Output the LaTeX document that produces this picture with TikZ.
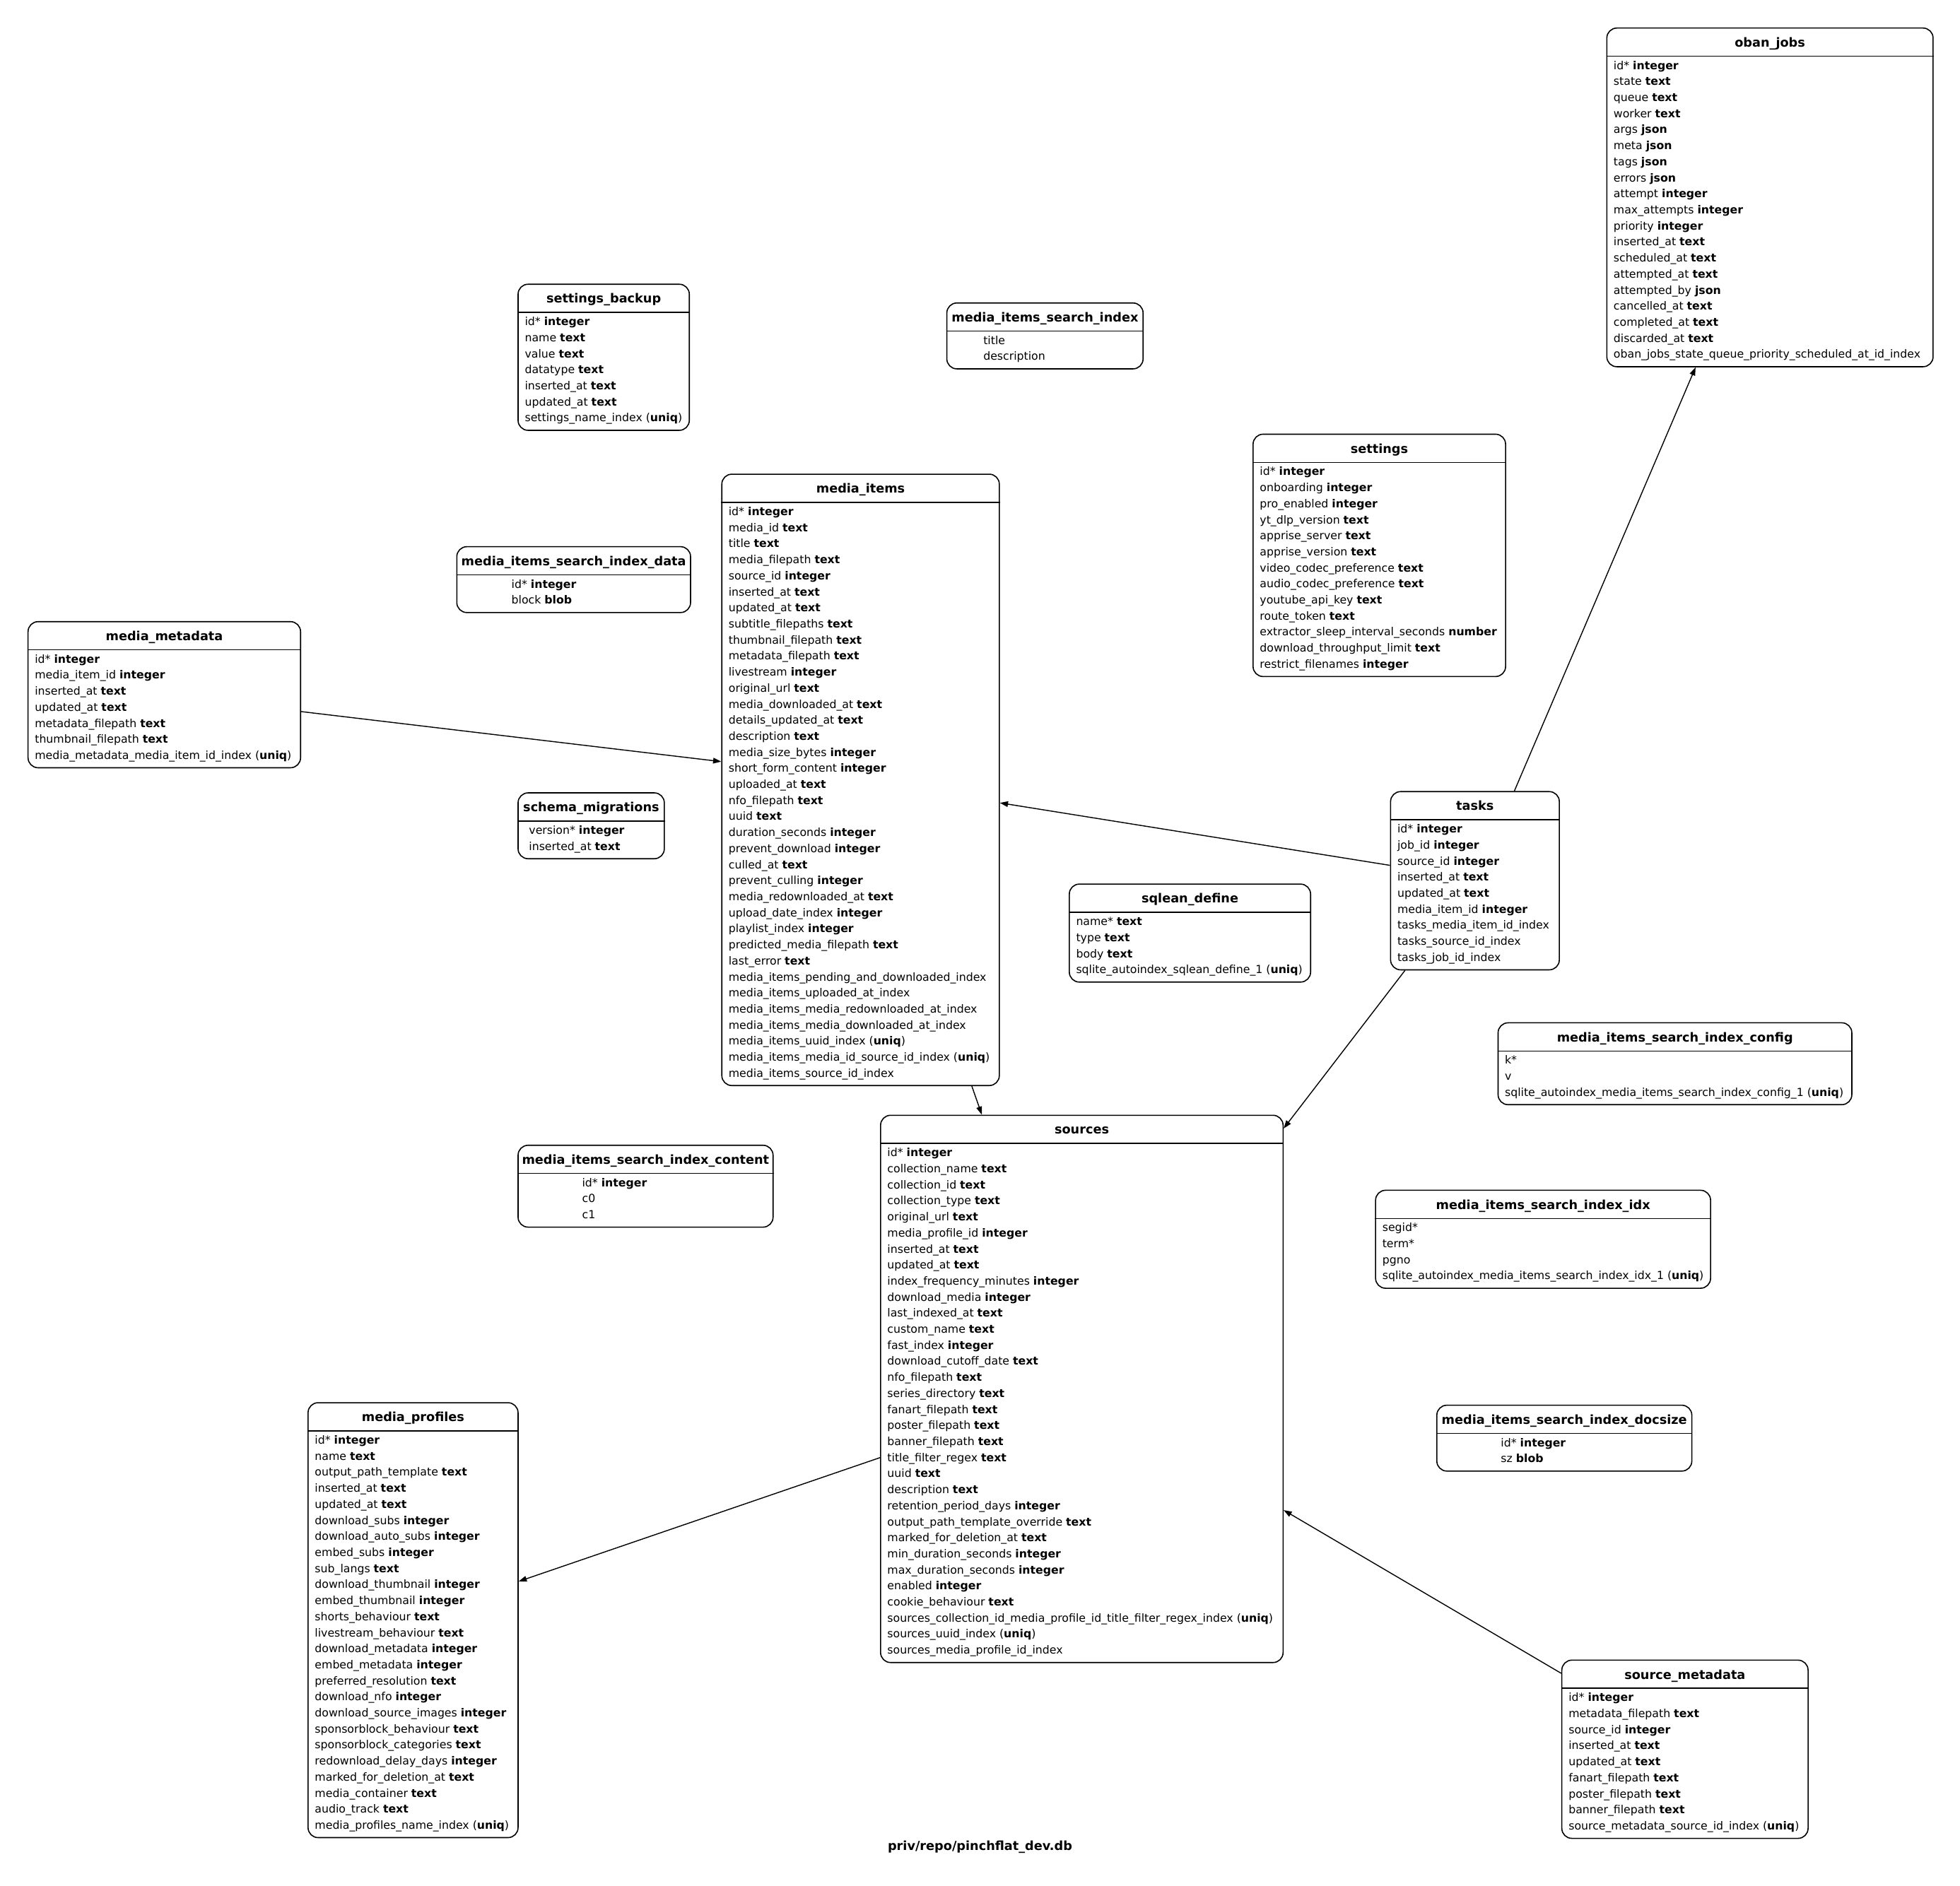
\documentclass[tikz,border=0pt]{standalone}
\usepackage{fontspec}
\setmainfont{DejaVu Sans}
\usetikzlibrary{arrows.meta}

\tikzset{
  tbl/.style={draw, rounded corners=8pt, line width=0.9pt, anchor=north west, inner sep=0pt},
  hdr/.style={anchor=base, inner sep=0pt, font=\bfseries},
  fld/.style={anchor=base west, inner sep=0pt},
  sep/.style={line width=0.9pt},
  rel/.style={-{Triangle[length=6.5pt,width=4.5pt]}, line width=0.8pt},
}

\begin{document}
\begin{tikzpicture}[x=1pt, y=-1pt, font=\fontsize{8.9pt}{10pt}\selectfont]
\useasboundingbox (0,0) rectangle (1568,1509);

% oban_jobs
\node[tbl, minimum width=261pt, minimum height=271pt] (obanjobs) at (1285,22) {};
\node[hdr] (obanjobs-h) at ([yshift=-15.5pt]obanjobs.north) {oban\_jobs};
\draw[sep] ([yshift=-23pt]obanjobs.north west) -- ([yshift=-23pt]obanjobs.north east);
\foreach \f [count=\i from 0] in {id* \textbf{integer}, state \textbf{text}, queue \textbf{text}, worker \textbf{text},
  args \textbf{json}, meta \textbf{json}, tags \textbf{json}, errors \textbf{json}, attempt \textbf{integer},
  max\_attempts \textbf{integer}, priority \textbf{integer}, inserted\_at \textbf{text}, scheduled\_at \textbf{text},
  attempted\_at \textbf{text}, attempted\_by \textbf{json}, cancelled\_at \textbf{text}, completed\_at \textbf{text},
  discarded\_at \textbf{text}, oban\_jobs\_state\_queue\_priority\_scheduled\_at\_id\_index}
  \node[fld] (obanjobs-\i) at ([xshift=5.7pt, yshift={-33.5pt-\i*12.84pt}]obanjobs.north west) {\f};

% settings_backup
\node[tbl, minimum width=137pt, minimum height=116.9pt] (settingsbackup) at (414,227) {};
\node[hdr] (settingsbackup-h) at ([yshift=-15.5pt]settingsbackup.north) {settings\_backup};
\draw[sep] ([yshift=-23pt]settingsbackup.north west) -- ([yshift=-23pt]settingsbackup.north east);
\foreach \f [count=\i from 0] in {id* \textbf{integer}, name \textbf{text}, value \textbf{text}, datatype \textbf{text},
  inserted\_at \textbf{text}, updated\_at \textbf{text}, settings\_name\_index (\textbf{uniq})}
  \node[fld] (settingsbackup-\i) at ([xshift=5.7pt, yshift={-33.5pt-\i*12.84pt}]settingsbackup.north west) {\f};

% media_items_search_index
\node[tbl, minimum width=157pt, minimum height=52.7pt] (searchindex) at (757,242) {};
\node[hdr] (searchindex-h) at ([yshift=-15.5pt]searchindex.north) {media\_items\_search\_index};
\draw[sep] ([yshift=-23pt]searchindex.north west) -- ([yshift=-23pt]searchindex.north east);
\foreach \f [count=\i from 0] in {title, description}
  \node[fld] (searchindex-\i) at ([xshift=29.5pt, yshift={-33.5pt-\i*12.84pt}]searchindex.north west) {\f};

% settings
\node[tbl, minimum width=202pt, minimum height=193.9pt] (settings) at (1002,347) {};
\node[hdr] (settings-h) at ([yshift=-15.5pt]settings.north) {settings};
\draw[sep] ([yshift=-23pt]settings.north west) -- ([yshift=-23pt]settings.north east);
\foreach \f [count=\i from 0] in {id* \textbf{integer}, onboarding \textbf{integer}, pro\_enabled \textbf{integer},
  yt\_dlp\_version \textbf{text}, apprise\_server \textbf{text}, apprise\_version \textbf{text},
  video\_codec\_preference \textbf{text}, audio\_codec\_preference \textbf{text}, youtube\_api\_key \textbf{text},
  route\_token \textbf{text}, extractor\_sleep\_interval\_seconds \textbf{number},
  download\_throughput\_limit \textbf{text}, restrict\_filenames \textbf{integer}}
  \node[fld] (settings-\i) at ([xshift=5.7pt, yshift={-33.5pt-\i*12.84pt}]settings.north west) {\f};

% media_items
\node[tbl, minimum width=222pt, minimum height=489.2pt] (mediaitems) at (577,379) {};
\node[hdr] (mediaitems-h) at ([yshift=-15.5pt]mediaitems.north) {media\_items};
\draw[sep] ([yshift=-23pt]mediaitems.north west) -- ([yshift=-23pt]mediaitems.north east);
\foreach \f [count=\i from 0] in {id* \textbf{integer}, media\_id \textbf{text}, title \textbf{text},
  media\_filepath \textbf{text}, source\_id \textbf{integer}, inserted\_at \textbf{text}, updated\_at \textbf{text},
  subtitle\_filepaths \textbf{text}, thumbnail\_filepath \textbf{text}, metadata\_filepath \textbf{text},
  livestream \textbf{integer}, original\_url \textbf{text}, media\_downloaded\_at \textbf{text},
  details\_updated\_at \textbf{text}, description \textbf{text}, media\_size\_bytes \textbf{integer},
  short\_form\_content \textbf{integer}, uploaded\_at \textbf{text}, nfo\_filepath \textbf{text}, uuid \textbf{text},
  duration\_seconds \textbf{integer}, prevent\_download \textbf{integer}, culled\_at \textbf{text},
  prevent\_culling \textbf{integer}, media\_redownloaded\_at \textbf{text}, upload\_date\_index \textbf{integer},
  playlist\_index \textbf{integer}, predicted\_media\_filepath \textbf{text}, last\_error \textbf{text},
  media\_items\_pending\_and\_downloaded\_index, media\_items\_uploaded\_at\_index,
  media\_items\_media\_redownloaded\_at\_index, media\_items\_media\_downloaded\_at\_index,
  media\_items\_uuid\_index (\textbf{uniq}), media\_items\_media\_id\_source\_id\_index (\textbf{uniq}),
  media\_items\_source\_id\_index}
  \node[fld] (mediaitems-\i) at ([xshift=5.7pt, yshift={-33.5pt-\i*12.84pt}]mediaitems.north west) {\f};

% media_items_search_index_data
\node[tbl, minimum width=187pt, minimum height=52.7pt] (searchdata) at (365,437) {};
\node[hdr] (searchdata-h) at ([yshift=-15.5pt]searchdata.north) {media\_items\_search\_index\_data};
\draw[sep] ([yshift=-23pt]searchdata.north west) -- ([yshift=-23pt]searchdata.north east);
\foreach \f [count=\i from 0] in {id* \textbf{integer}, block \textbf{blob}}
  \node[fld] (searchdata-\i) at ([xshift=44pt, yshift={-33.5pt-\i*12.84pt}]searchdata.north west) {\f};

% media_metadata
\node[tbl, minimum width=218pt, minimum height=116.9pt] (mediametadata) at (22,497) {};
\node[hdr] (mediametadata-h) at ([yshift=-15.5pt]mediametadata.north) {media\_metadata};
\draw[sep] ([yshift=-23pt]mediametadata.north west) -- ([yshift=-23pt]mediametadata.north east);
\foreach \f [count=\i from 0] in {id* \textbf{integer}, media\_item\_id \textbf{integer}, inserted\_at \textbf{text},
  updated\_at \textbf{text}, metadata\_filepath \textbf{text}, thumbnail\_filepath \textbf{text},
  media\_metadata\_media\_item\_id\_index (\textbf{uniq})}
  \node[fld] (mediametadata-\i) at ([xshift=5.7pt, yshift={-33.5pt-\i*12.84pt}]mediametadata.north west) {\f};

% schema_migrations
\node[tbl, minimum width=117pt, minimum height=52.7pt] (schemamig) at (414,634) {};
\node[hdr] (schemamig-h) at ([yshift=-15.5pt]schemamig.north) {schema\_migrations};
\draw[sep] ([yshift=-23pt]schemamig.north west) -- ([yshift=-23pt]schemamig.north east);
\foreach \f [count=\i from 0] in {version* \textbf{integer}, inserted\_at \textbf{text}}
  \node[fld] (schemamig-\i) at ([xshift=9pt, yshift={-33.5pt-\i*12.84pt}]schemamig.north west) {\f};

% tasks
\node[tbl, minimum width=135pt, minimum height=142.6pt] (tasks) at (1112,633) {};
\node[hdr] (tasks-h) at ([yshift=-15.5pt]tasks.north) {tasks};
\draw[sep] ([yshift=-23pt]tasks.north west) -- ([yshift=-23pt]tasks.north east);
\foreach \f [count=\i from 0] in {id* \textbf{integer}, job\_id \textbf{integer}, source\_id \textbf{integer},
  inserted\_at \textbf{text}, updated\_at \textbf{text}, media\_item\_id \textbf{integer},
  tasks\_media\_item\_id\_index, tasks\_source\_id\_index, tasks\_job\_id\_index}
  \node[fld] (tasks-\i) at ([xshift=5.7pt, yshift={-33.5pt-\i*12.84pt}]tasks.north west) {\f};

% sqlean_define
\node[tbl, minimum width=193pt, minimum height=78.4pt] (sqleandefine) at (855,707) {};
\node[hdr] (sqleandefine-h) at ([yshift=-15.5pt]sqleandefine.north) {sqlean\_define};
\draw[sep] ([yshift=-23pt]sqleandefine.north west) -- ([yshift=-23pt]sqleandefine.north east);
\foreach \f [count=\i from 0] in {name* \textbf{text}, type \textbf{text}, body \textbf{text},
  sqlite\_autoindex\_sqlean\_define\_1 (\textbf{uniq})}
  \node[fld] (sqleandefine-\i) at ([xshift=5.7pt, yshift={-33.5pt-\i*12.84pt}]sqleandefine.north west) {\f};

% media_items_search_index_config
\node[tbl, minimum width=283pt, minimum height=65.5pt] (searchconfig) at (1198,818) {};
\node[hdr] (searchconfig-h) at ([yshift=-15.5pt]searchconfig.north) {media\_items\_search\_index\_config};
\draw[sep] ([yshift=-23pt]searchconfig.north west) -- ([yshift=-23pt]searchconfig.north east);
\foreach \f [count=\i from 0] in {k*, v, sqlite\_autoindex\_media\_items\_search\_index\_config\_1 (\textbf{uniq})}
  \node[fld] (searchconfig-\i) at ([xshift=5.7pt, yshift={-33.5pt-\i*12.84pt}]searchconfig.north west) {\f};

% sources
\node[tbl, minimum width=322pt, minimum height=437.9pt] (sources) at (704,892) {};
\node[hdr] (sources-h) at ([yshift=-15.5pt]sources.north) {sources};
\draw[sep] ([yshift=-23pt]sources.north west) -- ([yshift=-23pt]sources.north east);
\foreach \f [count=\i from 0] in {id* \textbf{integer}, collection\_name \textbf{text}, collection\_id \textbf{text},
  collection\_type \textbf{text}, original\_url \textbf{text}, media\_profile\_id \textbf{integer},
  inserted\_at \textbf{text}, updated\_at \textbf{text}, index\_frequency\_minutes \textbf{integer},
  download\_media \textbf{integer}, last\_indexed\_at \textbf{text}, custom\_name \textbf{text},
  fast\_index \textbf{integer}, download\_cutoff\_date \textbf{text}, nfo\_filepath \textbf{text},
  series\_directory \textbf{text}, fanart\_filepath \textbf{text}, poster\_filepath \textbf{text},
  banner\_filepath \textbf{text}, title\_filter\_regex \textbf{text}, uuid \textbf{text}, description \textbf{text},
  retention\_period\_days \textbf{integer}, output\_path\_template\_override \textbf{text},
  marked\_for\_deletion\_at \textbf{text}, min\_duration\_seconds \textbf{integer},
  max\_duration\_seconds \textbf{integer}, enabled \textbf{integer}, cookie\_behaviour \textbf{text},
  sources\_collection\_id\_media\_profile\_id\_title\_filter\_regex\_index (\textbf{uniq}),
  sources\_uuid\_index (\textbf{uniq}), sources\_media\_profile\_id\_index}
  \node[fld] (sources-\i) at ([xshift=5.7pt, yshift={-33.5pt-\i*12.84pt}]sources.north west) {\f};

% media_items_search_index_content
\node[tbl, minimum width=204pt, minimum height=65.5pt] (searchcontent) at (414,916) {};
\node[hdr] (searchcontent-h) at ([yshift=-15.5pt]searchcontent.north) {media\_items\_search\_index\_content};
\draw[sep] ([yshift=-23pt]searchcontent.north west) -- ([yshift=-23pt]searchcontent.north east);
\foreach \f [count=\i from 0] in {id* \textbf{integer}, c0, c1}
  \node[fld] (searchcontent-\i) at ([xshift=51.5pt, yshift={-33.5pt-\i*12.84pt}]searchcontent.north west) {\f};

% media_items_search_index_idx
\node[tbl, minimum width=268pt, minimum height=78.4pt] (searchidx) at (1100,952) {};
\node[hdr] (searchidx-h) at ([yshift=-15.5pt]searchidx.north) {media\_items\_search\_index\_idx};
\draw[sep] ([yshift=-23pt]searchidx.north west) -- ([yshift=-23pt]searchidx.north east);
\foreach \f [count=\i from 0] in {segid*, term*, pgno, sqlite\_autoindex\_media\_items\_search\_index\_idx\_1 (\textbf{uniq})}
  \node[fld] (searchidx-\i) at ([xshift=5.7pt, yshift={-33.5pt-\i*12.84pt}]searchidx.north west) {\f};

% media_profiles
\node[tbl, minimum width=168pt, minimum height=348pt] (mediaprofiles) at (246,1122) {};
\node[hdr] (mediaprofiles-h) at ([yshift=-15.5pt]mediaprofiles.north) {media\_profiles};
\draw[sep] ([yshift=-23pt]mediaprofiles.north west) -- ([yshift=-23pt]mediaprofiles.north east);
\foreach \f [count=\i from 0] in {id* \textbf{integer}, name \textbf{text}, output\_path\_template \textbf{text},
  inserted\_at \textbf{text}, updated\_at \textbf{text}, download\_subs \textbf{integer},
  download\_auto\_subs \textbf{integer}, embed\_subs \textbf{integer}, sub\_langs \textbf{text},
  download\_thumbnail \textbf{integer}, embed\_thumbnail \textbf{integer}, shorts\_behaviour \textbf{text},
  livestream\_behaviour \textbf{text}, download\_metadata \textbf{integer}, embed\_metadata \textbf{integer},
  preferred\_resolution \textbf{text}, download\_nfo \textbf{integer}, download\_source\_images \textbf{integer},
  sponsorblock\_behaviour \textbf{text}, sponsorblock\_categories \textbf{text},
  redownload\_delay\_days \textbf{integer}, marked\_for\_deletion\_at \textbf{text},
  media\_container \textbf{text}, audio\_track \textbf{text}, media\_profiles\_name\_index (\textbf{uniq})}
  \node[fld] (mediaprofiles-\i) at ([xshift=5.7pt, yshift={-33.5pt-\i*12.84pt}]mediaprofiles.north west) {\f};

% media_items_search_index_docsize
\node[tbl, minimum width=204pt, minimum height=52.7pt] (searchdocsize) at (1149,1124) {};
\node[hdr] (searchdocsize-h) at ([yshift=-15.5pt]searchdocsize.north) {media\_items\_search\_index\_docsize};
\draw[sep] ([yshift=-23pt]searchdocsize.north west) -- ([yshift=-23pt]searchdocsize.north east);
\foreach \f [count=\i from 0] in {id* \textbf{integer}, sz \textbf{blob}}
  \node[fld] (searchdocsize-\i) at ([xshift=51.5pt, yshift={-33.5pt-\i*12.84pt}]searchdocsize.north west) {\f};

% source_metadata
\node[tbl, minimum width=197pt, minimum height=142.6pt] (sourcemetadata) at (1249,1328) {};
\node[hdr] (sourcemetadata-h) at ([yshift=-15.5pt]sourcemetadata.north) {source\_metadata};
\draw[sep] ([yshift=-23pt]sourcemetadata.north west) -- ([yshift=-23pt]sourcemetadata.north east);
\foreach \f [count=\i from 0] in {id* \textbf{integer}, metadata\_filepath \textbf{text}, source\_id \textbf{integer},
  inserted\_at \textbf{text}, updated\_at \textbf{text}, fanart\_filepath \textbf{text},
  poster\_filepath \textbf{text}, banner\_filepath \textbf{text},
  source\_metadata\_source\_id\_index (\textbf{uniq})}
  \node[fld] (sourcemetadata-\i) at ([xshift=5.7pt, yshift={-33.5pt-\i*12.84pt}]sourcemetadata.north west) {\f};

% relations
\draw[rel] ([yshift=-13.5pt]mediametadata.east) -- ([yshift=14.6pt]mediaitems.west);
\draw[rel] ([yshift=12.3pt]tasks.west) -- ([yshift=-18.4pt]mediaitems.east);
\draw[rel] ([xshift=31.5pt]tasks.north) -- ([xshift=-59.5pt]obanjobs.south);
\draw[rel] ([xshift=12pt]tasks.south west) -- ([yshift=-11pt]sources.north east);
\draw[rel] ([xshift=89pt]mediaitems.south) -- ([xshift=-80pt]sources.north);
\draw[rel] ([yshift=-55pt]sources.west) -- ([yshift=31pt]mediaprofiles.east);
\draw[rel] ([yshift=-11pt]sourcemetadata.north west) -- ([yshift=-97pt]sources.east);

\node[font=\bfseries] (dbtitle) at (784,1478) {priv/repo/pinchflat\_dev.db};
\end{tikzpicture}
\end{document}
